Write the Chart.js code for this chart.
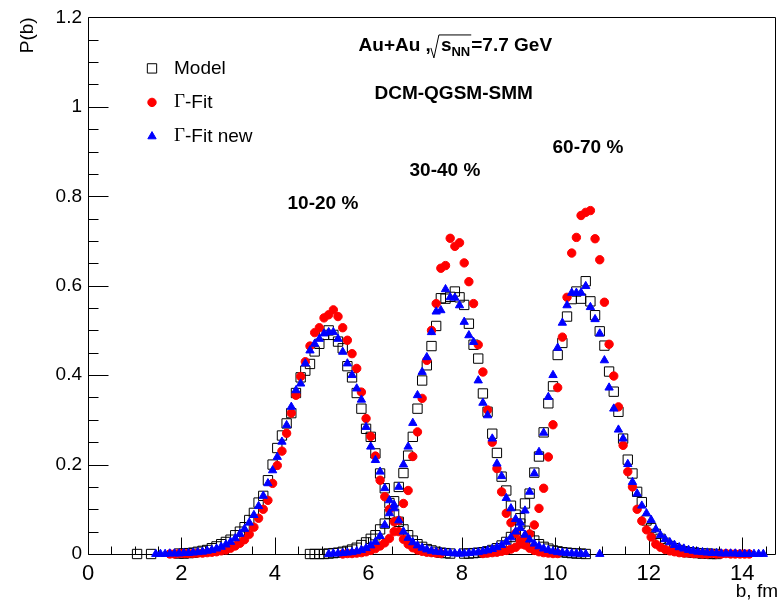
<!DOCTYPE html>
<html>
<head>
<meta charset="utf-8">
<script src="https://cdn.jsdelivr.net/npm/chart.js@4.4.0/dist/chart.umd.min.js"></script>
<style>
  html, body { margin:0; padding:0; background:#fff; }
  #wrap { width:784px; height:604px; }
</style>
</head>
<body>
<div id="wrap"><canvas id="chart" width="784" height="604"></canvas></div>
<script>
// P(b) histograms, bin width 0.1 fm, values read at bin centres
const binWidth = 0.1;
const yTicks = [0, 0.2, 0.4, 0.6, 0.8, 1, 1.2];
const xTicks = [0, 2, 4, 6, 8, 10, 12, 14];

// 10-20 %
const model1Start = 1.95;
const model1 = [0.001, 0.001, 0.002, 0.003, 0.005, 0.007, 0.009, 0.013, 0.017, 0.022, 0.027, 0.032, 0.042, 0.05, 0.06, 0.076, 0.092, 0.115, 0.13, 0.165, 0.2, 0.237, 0.265, 0.292, 0.315, 0.36, 0.395, 0.41, 0.425, 0.453, 0.47, 0.49, 0.5, 0.49, 0.475, 0.46, 0.42, 0.395, 0.36, 0.325, 0.28, 0.262, 0.225, 0.18, 0.147, 0.114, 0.09, 0.072, 0.055, 0.042, 0.03, 0.022, 0.016, 0.011, 0.008, 0.005, 0.003, 0.002, 0.001];
const fit1Start = 1.75;
const fit1 = [0, 0, 0.001, 0.001, 0.001, 0.001, 0.002, 0.002, 0.003, 0.004, 0.005, 0.007, 0.009, 0.013, 0.018, 0.024, 0.032, 0.044, 0.06, 0.08, 0.1, 0.12, 0.158, 0.198, 0.23, 0.27, 0.315, 0.355, 0.397, 0.43, 0.465, 0.495, 0.506, 0.528, 0.535, 0.546, 0.531, 0.506, 0.478, 0.448, 0.415, 0.362, 0.303, 0.263, 0.219, 0.165, 0.128, 0.1, 0.072, 0.05, 0.033, 0.022, 0.014, 0.009, 0.006, 0.004, 0.003, 0.002, 0.001];
const fitNew1Start = 1.45;
const fitNew1 = [0, 0, 0, 0.001, 0.001, 0.001, 0.002, 0.002, 0.003, 0.004, 0.005, 0.007, 0.009, 0.012, 0.016, 0.021, 0.027, 0.035, 0.045, 0.056, 0.07, 0.087, 0.107, 0.13, 0.158, 0.187, 0.217, 0.251, 0.288, 0.329, 0.366, 0.381, 0.426, 0.455, 0.47, 0.481, 0.493, 0.496, 0.496, 0.481, 0.452, 0.426, 0.4, 0.37, 0.345, 0.284, 0.24, 0.21, 0.184, 0.147, 0.12, 0.102, 0.075, 0.05, 0.036, 0.026, 0.019, 0.014, 0.01, 0.007, 0.005, 0.004, 0.003, 0.002, 0.001, 0.001];

// 30-40 %
const model2Start = 4.75;
const model2 = [0, 0, 0, 0, 0.001, 0.002, 0.003, 0.005, 0.007, 0.01, 0.014, 0.02, 0.026, 0.034, 0.042, 0.055, 0.068, 0.09, 0.118, 0.15, 0.181, 0.22, 0.262, 0.325, 0.388, 0.422, 0.465, 0.51, 0.572, 0.571, 0.575, 0.587, 0.574, 0.557, 0.515, 0.468, 0.437, 0.359, 0.318, 0.269, 0.226, 0.173, 0.142, 0.108, 0.088, 0.068, 0.052, 0.04, 0.03, 0.022, 0.016, 0.012, 0.008, 0.006, 0.004, 0.003, 0.002, 0.001, 0.001, 0];
const fit2Start = 5.45;
const fit2 = [0, 0.001, 0.001, 0.002, 0.003, 0.005, 0.008, 0.012, 0.018, 0.025, 0.035, 0.05, 0.075, 0.113, 0.142, 0.218, 0.273, 0.348, 0.433, 0.5, 0.56, 0.639, 0.645, 0.706, 0.688, 0.696, 0.651, 0.609, 0.56, 0.468, 0.407, 0.322, 0.25, 0.191, 0.139, 0.091, 0.07, 0.046, 0.03, 0.02, 0.013, 0.008, 0.005, 0.003, 0.002, 0.001, 0.001];
const fitNew2Start = 5.15;
const fitNew2 = [0, 0.001, 0.001, 0.002, 0.003, 0.004, 0.006, 0.009, 0.013, 0.019, 0.027, 0.04, 0.065, 0.091, 0.11, 0.15, 0.2, 0.24, 0.293, 0.355, 0.407, 0.44, 0.496, 0.542, 0.545, 0.592, 0.574, 0.573, 0.556, 0.519, 0.489, 0.474, 0.388, 0.338, 0.31, 0.258, 0.202, 0.174, 0.125, 0.102, 0.078, 0.058, 0.043, 0.032, 0.023, 0.017, 0.012, 0.009, 0.006, 0.004, 0.003, 0.002, 0.001, 0.001, 0, 0];

// 60-70 %
const model3Start = 8.05;
const model3 = [0.001, 0.001, 0.002, 0.003, 0.004, 0.006, 0.009, 0.013, 0.019, 0.027, 0.038, 0.055, 0.08, 0.113, 0.135, 0.182, 0.218, 0.272, 0.337, 0.375, 0.445, 0.472, 0.531, 0.57, 0.587, 0.571, 0.61, 0.565, 0.534, 0.498, 0.466, 0.408, 0.363, 0.318, 0.258, 0.211, 0.18, 0.139, 0.116, 0.075, 0.058, 0.045, 0.034, 0.025, 0.018, 0.013, 0.009, 0.006, 0.004, 0.003, 0.002, 0.001, 0.001, 0, 0];
const fit3Start = 8.45;
const fit3 = [0.001, 0.002, 0.003, 0.004, 0.006, 0.008, 0.011, 0.015, 0.022, 0.03, 0.045, 0.065, 0.102, 0.147, 0.217, 0.289, 0.372, 0.485, 0.574, 0.673, 0.708, 0.757, 0.764, 0.768, 0.705, 0.658, 0.563, 0.469, 0.398, 0.329, 0.243, 0.184, 0.15, 0.1, 0.074, 0.054, 0.038, 0.022, 0.015, 0.01, 0.007, 0.005, 0.003, 0.002, 0.002, 0.001, 0.001, 0, 0, 0.001, 0, 0, 0.001, 0, 0, 0, 0, 0];
const fitNew3Start = 7.95;
const fitNew3 = [0.001, 0.001, 0.002, 0.003, 0.004, 0.006, 0.008, 0.011, 0.015, 0.02, 0.027, 0.037, 0.05, 0.07, 0.097, 0.139, 0.18, 0.228, 0.271, 0.351, 0.4, 0.461, 0.517, 0.556, 0.584, 0.584, 0.584, 0.599, 0.552, 0.525, 0.493, 0.433, 0.372, 0.325, 0.278, 0.258, 0.201, 0.161, 0.135, 0.108, 0.091, 0.076, 0.055, 0.042, 0.033, 0.026, 0.02, 0.015, 0.012, 0.009, 0.007, 0.005, 0.004, 0.003, 0.002, 0.002, 0.001, 0.001, 0.001, 0.001, 0, 0, 0, 0, 0, 0];

// single bins away from the main runs
const modelLoneB = [1.05, 1.35];
const modelLoneP = [0, 0];
const fitNewLoneB = [10.95];
const fitNewLoneP = [0];

const FONT = "'Liberation Sans', Arial, Helvetica, sans-serif";
Chart.defaults.font.family = FONT;
Chart.defaults.color = '#000';

function toPoints(start, vals) {
  return vals.map((p, i) => ({ x: Math.round((start + i * binWidth) * 100) / 100, y: p }));
}
function lone(bs, ps) { return bs.map((b, i) => ({ x: b, y: ps[i] })); }

const modelPts = [].concat(toPoints(model1Start, model1), toPoints(model2Start, model2), toPoints(model3Start, model3), lone(modelLoneB, modelLoneP));
const fitPts = [].concat(toPoints(fit1Start, fit1), toPoints(fit2Start, fit2), toPoints(fit3Start, fit3));
const fitNewPts = [].concat(toPoints(fitNew1Start, fitNew1), toPoints(fitNew2Start, fitNew2), toPoints(fitNew3Start, fitNew3), lone(fitNewLoneB, fitNewLoneP));

const markers = [
  { label: 'Model', style: 'rect', radius: 6.6, fill: 'rgba(0,0,0,0)', stroke: '#000', bw: 1 },
  { label: 'Γ-Fit', style: 'circle', radius: 4.2, fill: '#ff0000', stroke: '#ff0000', bw: 1 },
  { label: 'Γ-Fit new', style: 'triangle', radius: 4.8, fill: '#0000ff', stroke: '#0000ff', bw: 1 }
];

function ds(data, m, order) {
  return {
    label: m.label, data: data, showLine: false, clip: false, order: order,
    pointStyle: m.style, pointRadius: m.radius, pointBorderWidth: m.bw,
    pointBackgroundColor: m.fill, pointBorderColor: m.stroke,
    backgroundColor: m.fill, borderColor: m.stroke
  };
}

// frame with ROOT style inward ticks
const frame = {
  id: 'frame',
  beforeDatasetsDraw(chart) {
    const { ctx, chartArea: a, scales: { x, y } } = chart;
    ctx.save();
    ctx.strokeStyle = '#000';
    ctx.lineWidth = 1;
    ctx.beginPath();
    const L = Math.round(a.left) + 0.5, R = Math.round(a.right) + 0.5;
    const T = Math.round(a.top) + 0.5, B = Math.round(a.bottom) + 0.5;
    ctx.rect(L, T, R - L, B - T);
    for (let i = 0; i <= 24; i++) {
      const py = Math.round(y.getPixelForValue(i * 0.05)) + 0.5;
      ctx.moveTo(L, py);
      ctx.lineTo(L + (i % 4 === 0 ? 20 : 10), py);
    }
    for (let i = 0; i * 0.5 <= 14.7; i++) {
      const px = Math.round(x.getPixelForValue(i * 0.5)) + 0.5;
      ctx.moveTo(px, B);
      ctx.lineTo(px, B - (i % 4 === 0 ? 17 : 8));
    }
    ctx.stroke();
    ctx.restore();
  }
};

const texts = {
  id: 'texts',
  afterDraw(chart) {
    const { ctx, chartArea: a, scales: { x, y } } = chart;
    ctx.save();
    ctx.fillStyle = '#000';
    ctx.textBaseline = 'alphabetic';
    ctx.textAlign = 'left';

    // axis titles
    ctx.font = '19px ' + FONT;
    ctx.textAlign = 'right';
    ctx.fillText('b, fm', 778, 597);
    ctx.save();
    ctx.translate(33, a.top);
    ctx.rotate(-Math.PI / 2);
    ctx.fillText('P(b)', 0, 0);
    ctx.restore();
    ctx.textAlign = 'left';

    // header: Au+Au ,sqrt(s_NN)=7.7 GeV
    const bold = 'bold 19px ' + FONT;
    let hx = x.getPixelForValue(5.79), hy = y.getPixelForValue(1.125);
    ctx.font = bold;
    ctx.fillText('Au+Au ,', hx, hy);
    let cx = hx + ctx.measureText('Au+Au ,').width;
    const sW = ctx.measureText('s').width;
    ctx.font = 'bold 13px ' + FONT;
    const nnW = ctx.measureText('NN').width;
    const top = hy - 16;
    ctx.beginPath();
    ctx.lineWidth = 1;
    ctx.strokeStyle = '#000';
    ctx.moveTo(cx, hy - 3);
    ctx.lineTo(cx + 3, hy + 7);
    ctx.lineTo(cx + 8, top);
    ctx.lineTo(cx + 10 + sW + nnW + 1, top);
    ctx.stroke();
    ctx.font = bold;
    ctx.fillText('s', cx + 10, hy);
    ctx.font = 'bold 13px ' + FONT;
    ctx.fillText('NN', cx + 10 + sW, hy + 5);
    ctx.font = bold;
    ctx.fillText('=7.7 GeV', cx + 10 + sW + nnW + 1, hy);

    ctx.fillText('DCM-QGSM-SMM', x.getPixelForValue(6.13), y.getPixelForValue(1.018));
    ctx.fillText('60-70 %', x.getPixelForValue(9.94), y.getPixelForValue(0.897));
    ctx.fillText('30-40 %', x.getPixelForValue(6.88), y.getPixelForValue(0.846));
    ctx.fillText('10-20 %', x.getPixelForValue(4.27), y.getPixelForValue(0.772));

    // legend
    const lx = a.left + 64, tx = a.left + 86;
    markers.forEach((m, i) => {
      const ly = a.top + 51 + i * 34;
      ctx.fillStyle = m.fill;
      ctx.strokeStyle = m.stroke;
      ctx.lineWidth = m.bw;
      Chart.helpers.drawPoint(ctx, { pointStyle: m.style, radius: m.radius, rotation: 0, borderWidth: m.bw }, lx, ly);
      ctx.fillStyle = '#000';
      ctx.textBaseline = 'middle';
      if (m.label.startsWith('Γ')) {
        ctx.font = "19px 'Liberation Serif', 'Times New Roman', serif";
        ctx.fillText('Γ', tx, ly);
        const gw = ctx.measureText('Γ').width;
        ctx.font = '19px ' + FONT;
        ctx.fillText(m.label.slice(1), tx + gw, ly);
      } else {
        ctx.font = '19px ' + FONT;
        ctx.fillText(m.label, tx, ly);
      }
    });
    ctx.restore();
  }
};

new Chart(document.getElementById('chart').getContext('2d'), {
  type: 'scatter',
  data: {
    datasets: [
      ds(modelPts, markers[0], 3),
      ds(fitPts, markers[1], 2),
      ds(fitNewPts, markers[2], 1)
    ]
  },
  options: {
    responsive: false,
    animation: false,
    devicePixelRatio: 1,
    events: [],
    layout: { padding: { left: 0, right: 9, top: 15, bottom: 0 } },
    plugins: { legend: { display: false }, tooltip: { enabled: false } },
    scales: {
      x: {
        type: 'linear', min: 0, max: 14.7,
        afterBuildTicks: s => { s.ticks = xTicks.map(v => ({ value: v })); },
        ticks: { font: { size: 22 }, color: '#000', padding: 7, maxRotation: 0, callback: v => String(v) },
        grid: { display: false, drawTicks: false },
        border: { display: false },
        afterFit: s => { s.height = 50; }
      },
      y: {
        type: 'linear', min: 0, max: 1.2,
        afterBuildTicks: s => { s.ticks = yTicks.map(v => ({ value: v })); },
        ticks: { font: { size: 19 }, color: '#000', padding: 6, callback: v => String(Math.round(v * 10) / 10) },
        grid: { display: false, drawTicks: false },
        border: { display: false },
        afterFit: s => { s.width = 88; }
      }
    }
  },
  plugins: [frame, texts]
});
</script>
</body>
</html>
